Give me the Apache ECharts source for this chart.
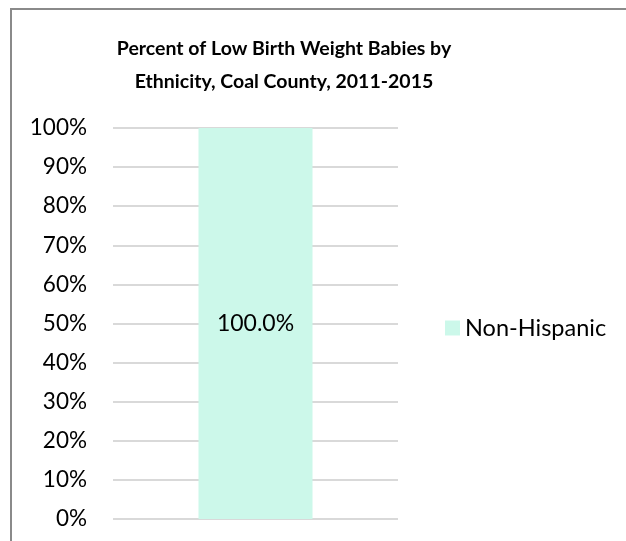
<!doctype html>
<html lang="en">
<head>
  <meta charset="utf-8">
  <title>Low Birth Weight Babies by Ethnicity</title>
  <script src="https://cdn.jsdelivr.net/npm/echarts@6/dist/echarts.min.js"></script>
  <style>
    html, body { margin: 0; padding: 0; background: #fff; }
    #chart { width: 626px; height: 541px; }
  </style>
</head>
<body>
  <div id="chart"></div>
  <script type="text/javascript">
    // data
    const categories = ['Coal County'];
    const seriesName = 'Non-Hispanic';
    const seriesValues = [100.0];
    const yTicks = [0, 10, 20, 30, 40, 50, 60, 70, 80, 90, 100];

    const font = 'Lato';
    let chart = echarts.init(document.getElementById('chart'));

    let option = {
      backgroundColor: '#ffffff',
      animation: false,
      title: {
        text: 'Percent of Low Birth Weight Babies by\nEthnicity, Coal County, 2011-2015',
        left: 279,
        textAlign: 'center',
        top: 27,
        textStyle: {
          color: '#000000',
          fontFamily: font,
          fontWeight: 'bold',
          fontSize: 19.5,
          lineHeight: 33
        }
      },
      graphic: [{
        type: 'rect',
        shape: { x: 11, y: 9, width: 640, height: 600 },
        style: { fill: null, stroke: '#8a8a8a', lineWidth: 2 },
        silent: true
      }],
      legend: {
        orient: 'vertical',
        left: 440,
        top: 311,
        itemWidth: 15,
        itemHeight: 15,
        itemGap: 10,
        icon: 'rect',
        textStyle: { color: '#000000', fontFamily: font, fontSize: 23.5 },
        data: [seriesName]
      },
      grid: { left: 113, right: 228, top: 128, bottom: 22 },
      xAxis: {
        type: 'category',
        data: categories,
        axisLine: { show: false },
        axisTick: { show: false },
        axisLabel: { show: false }
      },
      yAxis: {
        type: 'value',
        min: yTicks[0],
        max: yTicks[yTicks.length - 1],
        interval: 10,
        axisLine: { show: false },
        axisTick: { show: false },
        axisLabel: {
          formatter: '{value}%',
          color: '#000000',
          fontFamily: font,
          fontSize: 22.5,
          margin: 26
        },
        splitLine: { lineStyle: { color: '#d9d9d9', width: 2 } }
      },
      series: [{
        name: seriesName,
        type: 'bar',
        stack: 'total',
        barWidth: 114,
        itemStyle: { color: '#ccf8ea' },
        label: {
          show: true,
          position: 'inside',
          formatter: (p) => p.value.toFixed(1) + '%',
          color: '#000000',
          fontFamily: font,
          fontSize: 23
        },
        data: seriesValues
      }]
    };
    chart.setOption(option);
  </script>
</body>
</html>
